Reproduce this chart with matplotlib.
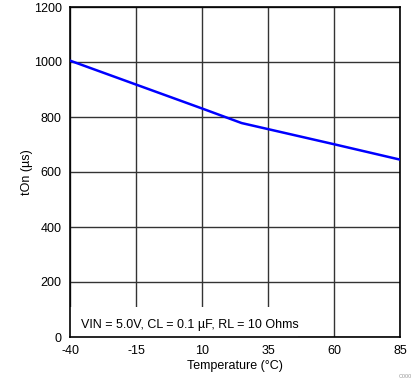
import matplotlib
matplotlib.use("Agg")
import matplotlib.pyplot as plt
from matplotlib.patches import Rectangle

temps = [-40, -15, 10, 25, 35, 60, 85]
ton_us = [1005, 918, 831, 778, 756, 701, 645]
xticks = [-40, -15, 10, 35, 60, 85]
yticks = [0, 200, 400, 600, 800, 1000, 1200]

plt.rcParams['font.family'] = ['Liberation Sans', 'DejaVu Sans']
plt.rcParams['axes.unicode_minus'] = False

fig = plt.figure(figsize=(4.19, 3.82), dpi=100)
ax = fig.add_axes([70/419, 45/382, 330/419, 330/382])
ax.plot(temps, ton_us, color='#0000ff', lw=1.8, zorder=3)
ax.set_xlim(-40, 85)
ax.set_ylim(0, 1200)
ax.set_xticks(xticks)
ax.set_yticks(yticks)
ax.tick_params(length=0, labelsize=9, pad=6)
ax.grid(True, color='#333333', lw=1)
ax.set_axisbelow(True)
for s in ax.spines.values():
    s.set_color('black')
    s.set_linewidth(1.2)
ax.set_xlabel('Temperature (°C)', fontsize=9, labelpad=2)
ax.set_ylabel('tOn (µs)', fontsize=9)
ax.yaxis.set_label_coords(-37/330, 0.5)
ax.add_patch(Rectangle((0, 0), 228/330, 30/330, transform=ax.transAxes,
                       facecolor='white', edgecolor='none', zorder=2.5))
ax.text(11/330, 9/330, 'VIN = 5.0V, CL = 0.1 µF, RL = 10 Ohms', transform=ax.transAxes,
        fontsize=9, ha='left', va='baseline', zorder=4)
fig.text(405/419, 1 - 377/382, 'C000', fontsize=4, color='#999999', ha='center', va='center')
fig.savefig('out.png', dpi=100)
